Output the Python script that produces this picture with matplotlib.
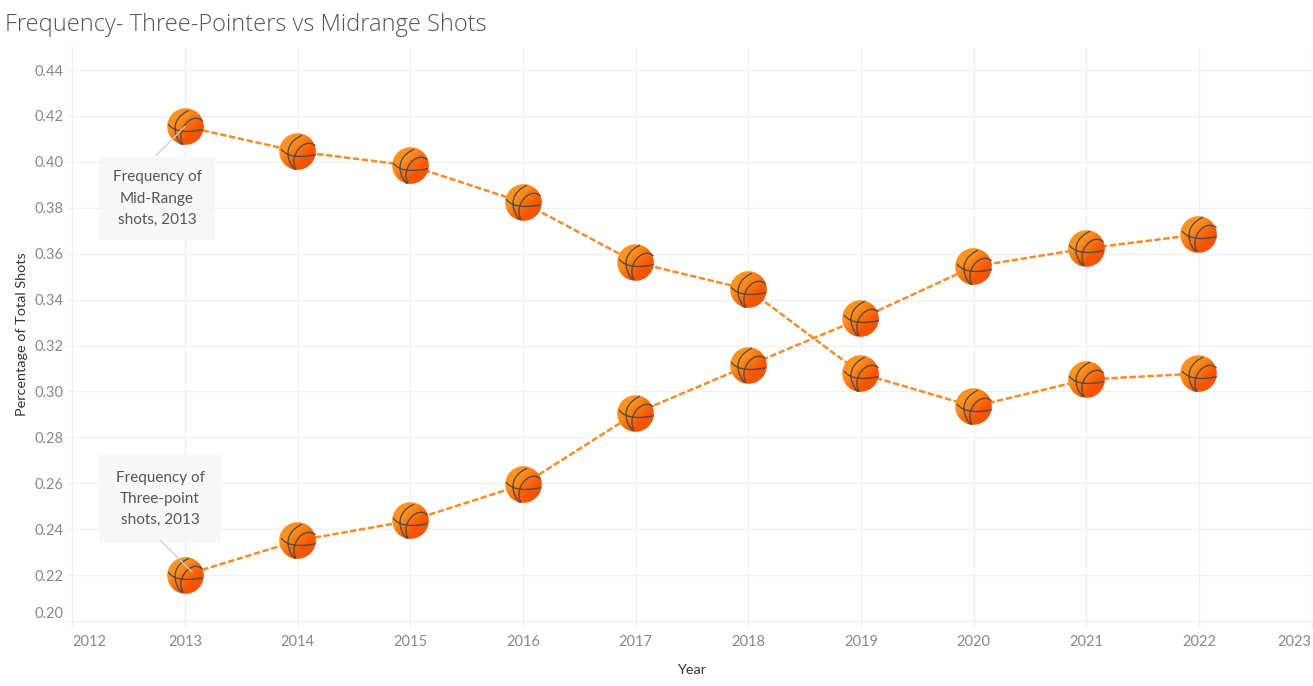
import numpy as np
import matplotlib
matplotlib.use('Agg')
import matplotlib.pyplot as plt
from matplotlib.path import Path
from matplotlib.offsetbox import OffsetImage, AnnotationBbox
from matplotlib.transforms import Affine2D

years = [2013, 2014, 2015, 2016, 2017, 2018, 2019, 2020, 2021, 2022]
midrange = [0.4154, 0.4045, 0.3984, 0.3823, 0.3562, 0.3444, 0.3078, 0.2934, 0.3052, 0.3078]
three_pt = [0.2200, 0.2350, 0.2437, 0.2594, 0.2905, 0.3113, 0.3318, 0.3544, 0.3623, 0.3684]
x_ticks = list(range(2012, 2024))
y_ticks = [0.20, 0.22, 0.24, 0.26, 0.28, 0.30, 0.32, 0.34, 0.36, 0.38, 0.40, 0.42, 0.44]

W, H = 1313, 686
GRID = '#f0f0f0'
plt.rcParams['font.family'] = ['Lato', 'DejaVu Sans']

fig = plt.figure(figsize=(W / 100, H / 100), dpi=100)
ax = fig.add_axes([72 / W, 1 - 621 / H, (1312 - 72) / W, (621 - 48) / H])
ax.set_xlim(2012 - 0.003, 2023.003)
ax.set_ylim(0.20, 0.4496)

ax.set_xticks(x_ticks)
ax.set_yticks(y_ticks)
ax.set_yticklabels(['%.2f' % v for v in y_ticks])
ax.grid(True, color=GRID, lw=0.75)
ax.set_axisbelow(True)
for s in ['top', 'right']:
    ax.spines[s].set_visible(False)
for s in ['left', 'bottom']:
    ax.spines[s].set_color(GRID)
    ax.spines[s].set_linewidth(0.75)
ax.tick_params(axis='both', color=GRID, length=4, width=0.75, labelcolor='#888888', labelsize=10.5, pad=2)
ax.tick_params(axis='x', pad=6)

# end labels are pulled inside like tableau does it
xl = ax.get_xticklabels()
xl[0].set_ha('left')
xl[-1].set_ha('right')
ax.get_yticklabels()[0].set_va('bottom')

ax.set_xlabel('Year', fontsize=10.4, color='#333333', labelpad=11)
ax.set_ylabel('Percentage of Total Shots', fontsize=10.4, color='#333333', labelpad=5)
fig.text(5 / W, 1 - 25 / H, 'Frequency- Three-Pointers vs Midrange Shots', fontsize=17,
         color='#555555', va='center', ha='left', family='Open Sans', fontweight='light')

dash = (0, (2.6, 1.0))
ax.plot(years, midrange, color='#F28E2B', lw=1.8, ls=dash, zorder=3)
ax.plot(years, three_pt, color='#F28E2B', lw=1.8, ls=dash, zorder=3)

# ball sprite: orange gradient with soft edge
n = 39
r = 18.3
yy, xx = np.mgrid[0:n, 0:n] - (n - 1) / 2
t = np.clip((xx + yy) / (2 * r) * 1.3 + 0.5, 0, 1)[..., None]
rgb = (1 - t) * np.array([1.0, 0.58, 0.13]) + t * np.array([0.97, 0.33, 0.0])
alpha = np.clip(r + 0.5 - np.hypot(xx, yy), 0, 1)[..., None]
ball = np.dstack([rgb, alpha])


def seam(p0, p1, p2, p3):
    # cubic bezier going through 4 points
    p0, p1, p2, p3 = [np.array(p) for p in (p0, p1, p2, p3)]
    c1 = (-5 * p0 + 18 * p1 - 9 * p2 + 2 * p3) / 6
    c2 = (2 * p0 - 9 * p1 + 18 * p2 - 5 * p3) / 6
    return [p0, c1, c2, p3]


# seams of the ball, unit circle coordinates
verts = (seam((0.2, 0.98), (-0.53, 0.29), (-0.53, -0.44), (-0.22, -0.97))
         + seam((0.96, 0.38), (0.29, 0.44), (-0.2, -0.16), (-0.13, -0.98))
         + seam((-0.98, 0.2), (-0.44, -0.16), (0.29, -0.22), (0.98, -0.12)))
seams = Path(verts, [Path.MOVETO, Path.CURVE4, Path.CURVE4, Path.CURVE4] * 3)

for series in [midrange, three_pt]:
    for x, y in zip(years, series):
        ab = AnnotationBbox(OffsetImage(ball, zoom=0.72), (x, y), frameon=False, pad=0, zorder=4)
        ax.add_artist(ab)
    ax.plot(years, series, ls='none', marker=seams, ms=18.3 * 2 * 0.72, mfc='none', mec='#5c4a44',
            mew=1.0, zorder=5)

note_style = dict(fontsize=11, color='#555555', ha='center', va='center', linespacing=1.65,
                  textcoords='offset pixels', zorder=6)

ax.annotate('Frequency of\nMid-Range\nshots, 2013', xy=(years[0], midrange[0]), xytext=(-28, -72),
            bbox=dict(boxstyle='square,pad=0.9', fc='#f7f7f7', ec='none', alpha=0.85), **note_style)
ax.annotate('Frequency of\nThree-point\nshots, 2013', xy=(years[0], three_pt[0]), xytext=(-25, 76),
            bbox=dict(boxstyle='square,pad=1.05', fc='#f7f7f7', ec='none', alpha=0.85), **note_style)

conn = dict(arrowstyle='-', color='#cccccc', lw=0.9, shrinkA=0, shrinkB=0)
ax.annotate('', xy=(years[0], midrange[0]), xytext=(-29, -29), textcoords='offset pixels',
            arrowprops=conn, zorder=6)
ax.annotate('', xy=(years[0], three_pt[0]), xycoords=ax.transData + Affine2D().translate(7, 3),
            xytext=(-32, 32), textcoords='offset pixels', arrowprops=conn, zorder=6)

fig.savefig('out.png', dpi=100)
